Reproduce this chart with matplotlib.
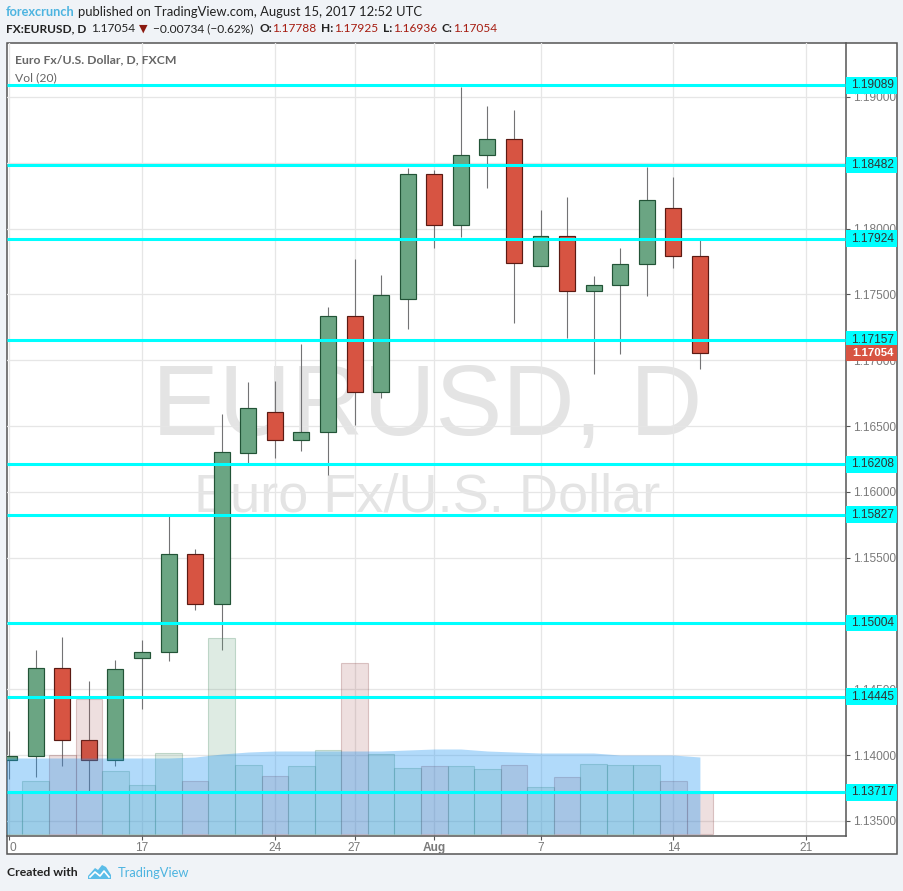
import matplotlib
matplotlib.use('Agg')
import matplotlib.pyplot as plt
import matplotlib.patches as patches
from matplotlib.transforms import Affine2D
import numpy as np

# daily candles, Jul 10 .. Aug 15 2017 (no weekends)
opens = [1.13963, 1.13993, 1.14662, 1.14115, 1.13963, 1.14738, 1.14783, 1.15528, 1.15148,
         1.16295, 1.16607, 1.16394, 1.16455, 1.17336, 1.16759, 1.17465, 1.18415, 1.18028,
         1.18559, 1.18681, 1.17716, 1.17944, 1.17526, 1.17572, 1.17731, 1.18157, 1.17788]
highs = [1.14183, 1.14798, 1.14897, 1.14563, 1.14722, 1.14874, 1.15817, 1.15566, 1.16592,
         1.16835, 1.16842, 1.17123, 1.17405, 1.17769, 1.17648, 1.18461, 1.18445, 1.19076,
         1.18932, 1.18901, 1.18142, 1.18240, 1.17640, 1.17853, 1.18468, 1.18392, 1.17925]
lows = [1.13818, 1.13833, 1.13917, 1.13727, 1.13917, 1.14350, 1.14715, 1.15102, 1.14798,
        1.16219, 1.16257, 1.16310, 1.16128, 1.16508, 1.16713, 1.17237, 1.17853, 1.17936,
        1.18309, 1.17283, 1.17716, 1.17169, 1.16895, 1.17047, 1.17488, 1.17701, 1.16936]
closes = [1.13993, 1.14662, 1.14115, 1.13963, 1.14654, 1.14783, 1.15528, 1.15148, 1.16303,
          1.16637, 1.16394, 1.16455, 1.17336, 1.16759, 1.17496, 1.18415, 1.18028, 1.18559,
          1.18681, 1.17739, 1.17944, 1.17526, 1.17572, 1.17731, 1.18218, 1.17792, 1.17054]
volumes = [41, 53, 79, 135, 63, 49, 81, 53, 196, 69, 58, 68, 84, 171, 80, 66, 68, 68, 65,
           69, 47, 57, 70, 69, 69, 53, 41]
vol_up = [1, 1, 0, 0, 1, 1, 1, 0, 1, 1, 0, 1, 1, 0, 1, 1, 0, 1, 1, 0, 1, 0, 1, 1, 1, 0, 0]
# Vol (20) average, starts one bar before the first candle
vol_ma = [76, 76, 76, 76, 76, 76, 76, 76, 77, 80, 82, 83, 83, 83, 83, 83, 84, 85, 85, 83,
          82, 81, 81, 81, 79, 79, 79, 77]

levels = [1.19089, 1.18482, 1.17924, 1.17157, 1.16208, 1.15827, 1.15004, 1.14445, 1.13717]
last_price = 1.17054
price_ticks = [1.135, 1.14, 1.145, 1.15, 1.155, 1.16, 1.165, 1.17, 1.175, 1.18, 1.185, 1.19]
date_ticks = [0, 5, 10, 13, 16, 20, 25, 30]
date_labels = ['0', '17', '24', '27', 'Aug', '7', '14', '21']

GREEN = '#6ba583'
GREEN_EDGE = '#225437'
RED = '#d75442'
RED_EDGE = '#5b1a13'
WICK = '#737375'
CYAN = '#00ffff'
GREY = '#7a7a7a'
SANS = 'Liberation Sans'
HEAD = 'Lato'
TICK_SIZE = 8.6

W, H = 904, 891
fig = plt.figure(figsize=(W / 100, H / 100), dpi=100, facecolor='#f0f3f7')
px = Affine2D().scale(1, -1).translate(0, H)  # pixels from the top left corner

fig.add_artist(patches.Rectangle((7, 43), 890, 811, transform=px, facecolor='white',
                                 edgecolor='#555555', linewidth=1.1, zorder=-1))

box = [7 / W, (H - 835.5) / H, 839 / W, 792.5 / H]
ax = fig.add_axes(box, facecolor='none')
ax.set_xlim(-0.083, 31.5)
ax.set_ylim(1.13389, 1.19410)
ax.set_axisbelow(True)
ax.grid(True, color='#e6e6e6', linewidth=0.9)
for s in ['left', 'top']:
    ax.spines[s].set_visible(False)
for s in ['right', 'bottom']:
    ax.spines[s].set_color('#555555')
    ax.spines[s].set_linewidth(1.1)

ax.yaxis.tick_right()
ax.set_yticks(price_ticks)
ax.set_yticklabels(['%.5f' % p for p in price_ticks], fontsize=TICK_SIZE, family=SANS, color=GREY)
ax.set_xticks(date_ticks)
ax.set_xticklabels(date_labels, fontsize=TICK_SIZE, family=SANS, color=GREY)
ax.tick_params(axis='both', length=2.9, width=0.8, color='#555555', pad=2)
ax.get_xticklabels()[0].set_ha('left')
ax.get_xticklabels()[4].set_fontweight('bold')

# watermark
ax.text(427, 409, 'EURUSD, D', transform=px, fontsize=72, family=SANS, color='#e4e4e4',
        ha='center', va='center', zorder=0.4)
ax.text(427, 497, 'Euro Fx/U.S. Dollar', transform=px, fontsize=39, family=SANS, color='#e4e4e4',
        ha='center', va='center', zorder=0.4)

# candles
x = np.arange(len(opens))
up = np.array(closes) >= np.array(opens)
ax.vlines(x, lows, highs, color=WICK, linewidth=0.8, zorder=2)
ax.bar(x, np.array(closes) - np.array(opens), bottom=opens, width=0.6,
       color=[GREEN if u else RED for u in up],
       edgecolor=[GREEN_EDGE if u else RED_EDGE for u in up], linewidth=0.85, zorder=3)

# volume pane, one unit is one pixel here
ax_vol = fig.add_axes(box, facecolor='none', sharex=ax)
ax_vol.set_ylim(-1.5, 791)
ax_vol.axis('off')
for i, v in enumerate(volumes):
    if vol_up[i]:
        ax_vol.bar(i, v, width=1, color=(0.42, 0.65, 0.51, 0.22), edgecolor=(0.3, 0.55, 0.4, 0.3), linewidth=0.8)
    else:
        ax_vol.bar(i, v, width=1, color=(0.63, 0.31, 0.31, 0.18), edgecolor=(0.5, 0.2, 0.2, 0.25), linewidth=0.8)
ax_vol.fill_between(np.arange(-1, len(vol_ma) - 1), 0, vol_ma, color='#2196f3', alpha=0.35, linewidth=0)

# horizontal levels and their price tags
ax_lv = fig.add_axes(box, facecolor='none', sharex=ax, sharey=ax)
ax_lv.axis('off')
tag_h = 16.5 * 7.598e-5
tag_w = 51 / 839
text_x = 1 + 27 / 839
trans = ax_lv.get_yaxis_transform()
for lv in levels:
    ax_lv.axhline(lv, xmin=0, xmax=0.9985, color=CYAN, linewidth=2.2, solid_capstyle='butt')
    ax_lv.add_patch(patches.Rectangle((1, lv - tag_h / 2), tag_w, tag_h, transform=trans,
                                      facecolor=CYAN, edgecolor='none', clip_on=False))
    ax_lv.text(text_x, lv, '%.5f' % lv, transform=trans, ha='center', va='center',
               fontsize=TICK_SIZE, family=SANS, color='#333333', clip_on=False)
ax_lv.add_patch(patches.Rectangle((1, last_price - tag_h / 2), tag_w, tag_h, transform=trans,
                                  facecolor='#d75442', edgecolor='none', clip_on=False))
ax_lv.text(text_x, last_price, '%.5f' % last_price, transform=trans, ha='center', va='center',
           fontsize=TICK_SIZE - 0.4, family=SANS, color='white', fontweight='bold', clip_on=False)

# pane titles
fig.text(15, 60, 'Euro Fx/U.S. Dollar, D, FXCM', transform=px, fontsize=8.8, family=HEAD,
         color='#666666', va='center', fontweight='bold')
fig.text(15, 78, 'Vol (20)', transform=px, fontsize=8.7, family=HEAD, color='#666666', va='center')


def head(xp, yp, s, color='#222222', weight='normal', size=8.6):
    fig.text(xp, yp, s, transform=px, fontsize=size, family=HEAD, color=color, va='center',
             fontweight=weight)


DARKRED = '#a61c10'
head(6, 12, 'forexcrunch', color='#4db4e0', weight='bold', size=9.2)
head(78, 12, 'published on TradingView.com, August 15, 2017 12:52 UTC', size=9.4)
head(6, 29, 'FX:EURUSD, D', weight='bold')
head(91, 29, '1.17054')
fig.text(139, 29, '\u25bc', transform=px, fontsize=8, family='DejaVu Sans', color='#8b1a0f', va='center')
head(153, 29, '\u22120.00734 (\u22120.62%)')
for xl, lab, xv, val in [(259, 'O:', 272, '1.17788'), (321, 'H:', 334, '1.17925'),
                         (383, 'L:', 393, '1.16936'), (442, 'C:', 453, '1.17054')]:
    head(xl, 29, lab, weight='bold')
    head(xv, 29, val, color=DARKRED)

# footer with logo
head(7, 873, 'Created with', weight='bold', size=8.8)
head(118, 873, 'TradingView', color='#4db4e0', size=9.3)
logo = [(88, 876), (95, 868), (98, 870), (102, 865), (106, 867), (111, 875), (111, 879), (88, 879)]
fig.add_artist(patches.Polygon(logo, closed=True, transform=px, facecolor='#5bbde8', edgecolor='none'))
zig_x = [90, 95, 100, 104, 109]
zig_y = [877, 872, 876, 871, 877]
fig.add_artist(plt.Line2D(zig_x, zig_y, transform=px, color='white', linewidth=1.2))

fig.savefig('out.png', dpi=100, facecolor=fig.get_facecolor())
